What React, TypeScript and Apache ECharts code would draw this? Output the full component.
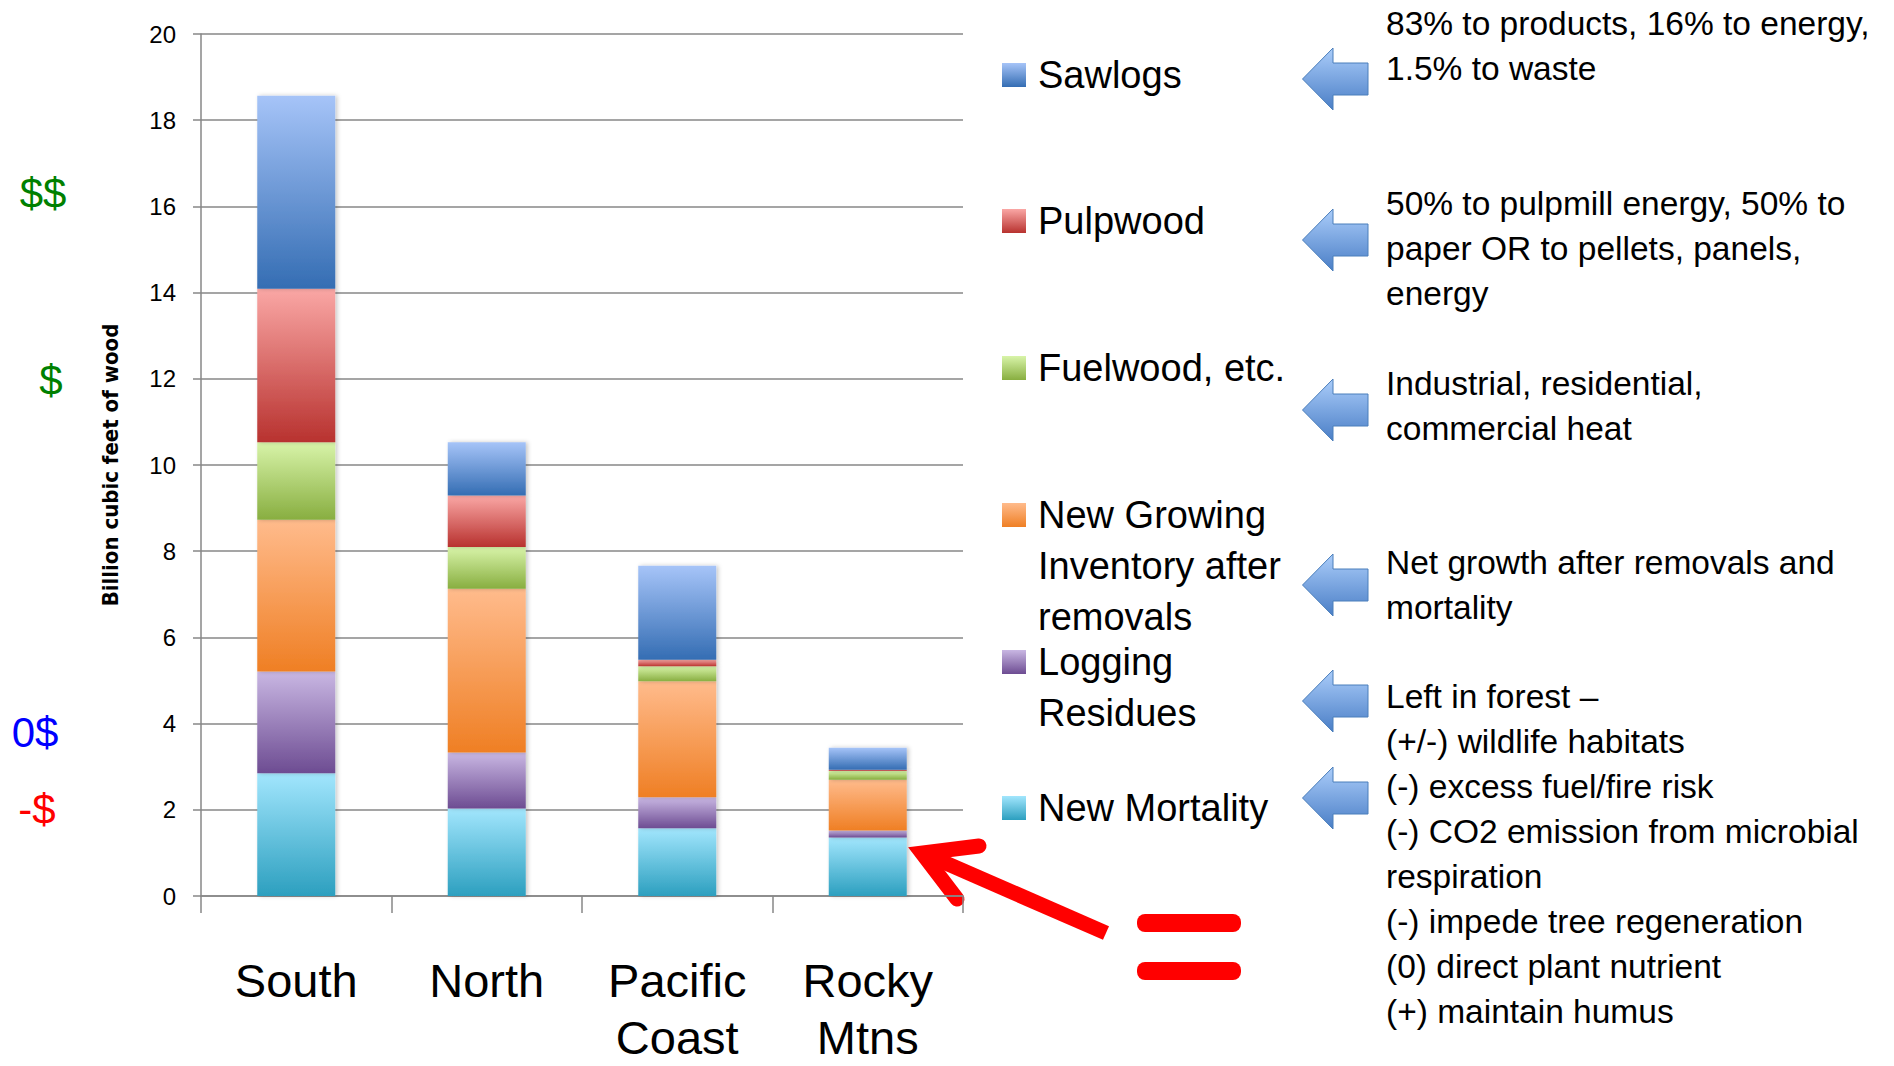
import React, { useEffect, useRef } from "react";
import * as echarts from "echarts";

// ---------- data ----------
const categories = ["South", "North", "Pacific Coast", "Rocky Mtns"];

// stacked from bottom to top (billion cubic feet of wood)
const newMortality = [2.85, 2.03, 1.57, 1.36];
const loggingResidues = [2.36, 1.3, 0.72, 0.16];
const newGrowingInventory = [3.52, 3.8, 2.69, 1.18];
const fuelwood = [1.8, 0.97, 0.35, 0.2];
const pulpwood = [3.56, 1.19, 0.15, 0.03];
const sawlogs = [4.48, 1.24, 2.18, 0.51];

const yMin = 0;
const yMax = 20;
const yInterval = 2;
const yAxisTitle = "Billion cubic feet of wood";

// legend labels (top to bottom), split into their displayed lines
const legendSawlogs = ["Sawlogs"];
const legendPulpwood = ["Pulpwood"];
const legendFuelwood = ["Fuelwood, etc."];
const legendGrowing = ["New Growing", "Inventory after", "removals"];
const legendLogging = ["Logging", "Residues"];
const legendMortality = ["New Mortality"];

// annotation notes (right column)
const noteSawlogs = ["83% to products, 16% to energy,", "1.5% to waste"];
const notePulpwood = ["50% to pulpmill energy, 50% to", "paper OR to pellets, panels,", "energy"];
const noteFuelwood = ["Industrial, residential,", "commercial heat"];
const noteGrowing = ["Net growth after removals and", "mortality"];
const noteResidues = [
  "Left in forest \u2013",
  "(+/-) wildlife habitats",
  "(-) excess fuel/fire risk",
  "(-) CO2 emission from microbial",
  "respiration",
  "(-) impede tree regeneration",
  "(0) direct plant nutrient",
  "(+) maintain humus",
];

// value scale labels on the far left
const valueLabels = ["$$", "$", "0$", "-$"];

// ---------- styling / layout ----------
const FONT = "'Liberation Sans', Arial, sans-serif";
const W = 1894;
const H = 1066;
const GRID = { left: 201, top: 34, width: 762, height: 862 };
const GRAY = "#878787";

const grad = (top: string, bottom: string) =>
  new echarts.graphic.LinearGradient(0, 0, 0, 1, [
    { offset: 0, color: top },
    { offset: 1, color: bottom },
  ]);

const seriesDefs = [
  { lines: legendMortality, data: newMortality, c: ["#a2e6fd", "#2c9fbf"] },
  { lines: legendLogging, data: loggingResidues, c: ["#c9b7e3", "#6d4c92"] },
  { lines: legendGrowing, data: newGrowingInventory, c: ["#ffbb8c", "#ef7f24"] },
  { lines: legendFuelwood, data: fuelwood, c: ["#d8f4a9", "#88ae40"] },
  { lines: legendPulpwood, data: pulpwood, c: ["#faa7a5", "#b8322f"] },
  { lines: legendSawlogs, data: sawlogs, c: ["#a6c4f8", "#346db3"] },
];

// legend first-line centers (top to bottom order: sawlogs ... mortality)
const legendCenters = [75, 221, 368, 515, 662, 808];
const legendOrder = [5, 4, 3, 2, 1, 0];
const arrowCenters = [79, 240, 410, 585, 701, 798];
const notes = [
  { lines: noteSawlogs, c: 23 },
  { lines: notePulpwood, c: 203 },
  { lines: noteFuelwood, c: 383 },
  { lines: noteGrowing, c: 562 },
  { lines: noteResidues, c: 696 },
];
const valueLabelPos = [
  { x: 43, y: 193, color: "#008000" },
  { x: 51, y: 380, color: "#008000" },
  { x: 35, y: 732, color: "#0000ff" },
  { x: 37, y: 809, color: "#ff0000" },
];

function buildOption() {
  const names = seriesDefs.map((s) => s.lines.join(" "));

  const series = seriesDefs.map((s, i) => ({
    name: names[i],
    type: "bar",
    stack: "total",
    barWidth: 78,
    data: s.data,
    itemStyle: {
      color: grad(s.c[0], s.c[1]),
      shadowColor: "rgba(0,0,0,0.22)",
      shadowBlur: 4,
      shadowOffsetX: 2,
      shadowOffsetY: 0,
    },
    emphasis: { disabled: true },
  }));

  const legends = legendOrder.map((si, k) => ({
    show: true,
    orient: "vertical",
    left: 1002,
    top: legendCenters[k] - 22,
    padding: 0,
    itemWidth: 24,
    itemHeight: 24,
    icon: "rect",
    selectedMode: false,
    data: [names[si]],
    formatter: () => seriesDefs[si].lines[0],
    textStyle: {
      fontFamily: FONT,
      fontSize: 38,
      color: "#000",
      lineHeight: 44,
      padding: [0, 0, 0, 7],
    },
  }));

  const graphic: any[] = [];

  // legend continuation lines
  legendOrder.forEach((si, k) => {
    const extra = seriesDefs[si].lines.slice(1);
    if (extra.length) {
      graphic.push({
        type: "text",
        x: 1038,
        y: legendCenters[k] + 51 - 25.5,
        style: {
          text: extra.join("\n"),
          fontFamily: FONT,
          fontSize: 38,
          lineHeight: 51,
          fill: "#000",
          align: "left",
          verticalAlign: "top",
        },
      });
    }
  });

  // blue block arrows
  arrowCenters.forEach((c) => {
    graphic.push({
      type: "polygon",
      shape: {
        points: [
          [1302.5, c],
          [1333, c - 31],
          [1333, c - 16],
          [1368, c - 16],
          [1368, c + 16],
          [1333, c + 16],
          [1333, c + 31],
        ],
      },
      style: {
        fill: grad("#abcdfa", "#4a7ec6"),
        stroke: "#4a7ebb",
        lineWidth: 1,
      },
    });
  });

  // annotation notes
  notes.forEach((n) => {
    graphic.push({
      type: "text",
      x: 1386,
      y: n.c - 22.5,
      style: {
        text: n.lines.join("\n"),
        fontFamily: FONT,
        fontSize: 33.5,
        lineHeight: 45,
        fill: "#000",
        align: "left",
        verticalAlign: "top",
      },
    });
  });

  // value labels on left
  valueLabels.forEach((t, i) => {
    const p = valueLabelPos[i];
    graphic.push({
      type: "text",
      x: p.x,
      y: p.y,
      style: {
        text: t,
        fontFamily: FONT,
        fontSize: 42,
        fill: p.color,
        align: "center",
        verticalAlign: "middle",
      },
    });
  });

  // red arrow
  graphic.push({
    type: "line",
    shape: { x1: 1106, y1: 933, x2: 925, y2: 854 },
    style: { stroke: "#ff0000", lineWidth: 15, lineCap: "butt" },
  });
  graphic.push({
    type: "polyline",
    shape: {
      points: [
        [979, 846],
        [922, 853],
        [957, 899],
      ],
    },
    style: {
      stroke: "#ff0000",
      lineWidth: 15,
      lineCap: "round",
      lineJoin: "miter",
      fill: null,
    },
  });

  // red equals sign
  [914, 962].forEach((y) => {
    graphic.push({
      type: "rect",
      shape: { x: 1137, y, width: 104, height: 18, r: 8 },
      style: { fill: "#ff0000" },
    });
  });

  return {
    animation: false,
    backgroundColor: "#ffffff",
    grid: { ...GRID, containLabel: false, outerBoundsMode: "none" },
    legend: legends,
    xAxis: {
      type: "category",
      data: categories,
      axisLine: { show: true, lineStyle: { color: GRAY, width: 1.5 } },
      axisTick: { show: true, length: 17, lineStyle: { color: GRAY, width: 1.5 } },
      axisLabel: {
        fontFamily: FONT,
        fontSize: 47,
        lineHeight: 57,
        color: "#000",
        margin: 56,
        interval: 0,
        formatter: (v: string) => v.replace(" ", "\n"),
      },
      splitLine: { show: false },
    },
    yAxis: {
      type: "value",
      min: yMin,
      max: yMax,
      interval: yInterval,
      name: yAxisTitle,
      nameLocation: "middle",
      nameGap: 80,
      nameRotate: 90,
      nameTextStyle: {
        fontFamily: "'DejaVu Sans Condensed', 'DejaVu Sans', sans-serif",
        fontWeight: "bold",
        fontSize: 22,
        color: "#000",
      },
      axisLine: { show: true, lineStyle: { color: GRAY, width: 1.5 } },
      axisTick: { show: true, length: 8, lineStyle: { color: GRAY, width: 1.5 } },
      axisLabel: { fontFamily: FONT, fontSize: 24, color: "#000", margin: 25 },
      splitLine: { show: true, lineStyle: { color: GRAY, width: 1.5 } },
    },
    series,
    graphic,
  };
}

export default function App() {
  const ref = useRef<HTMLDivElement>(null);
  useEffect(() => {
    if (!ref.current) return;
    const chart = echarts.init(ref.current, null, { renderer: "svg" });
    chart.setOption(buildOption() as any);
    return () => chart.dispose();
  }, []);
  return (
    <div
      ref={ref}
      style={{ position: "fixed", left: 0, top: 0, width: W, height: H, background: "#fff" }}
    />
  );
}
